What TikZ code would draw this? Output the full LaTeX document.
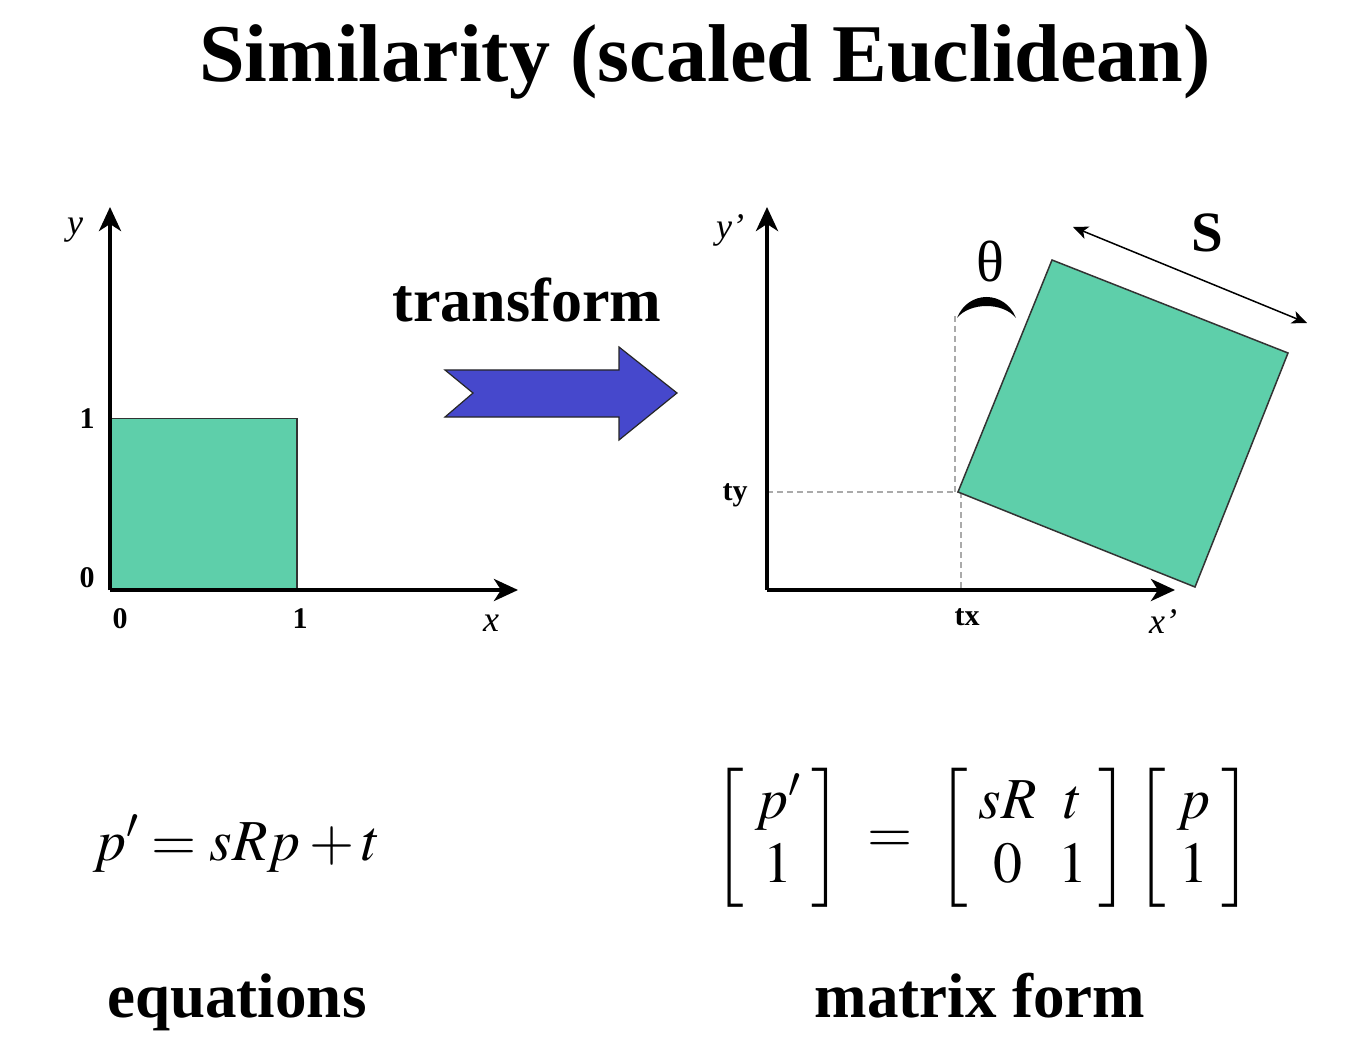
\documentclass[tikz,border=0pt]{standalone}
\usepackage{mathptmx}
\usepackage{fontspec}
\setmainfont{Liberation Serif}
\usetikzlibrary{arrows.meta}
\definecolor{sqgreen}{RGB}{94,207,170}
\definecolor{arrblue}{RGB}{70,72,204}
\definecolor{dashgray}{RGB}{170,170,170}
\tikzset{
  axis/.style={line width=4pt, -{Stealth[length=24pt,width=22pt,inset=7pt]}},
  sq/.style={fill=sqgreen, draw=black!80, line width=1.5pt, line join=miter},
  guide/.style={draw=dashgray, line width=1.3pt, dash pattern=on 6pt off 4pt},
  title/.style={font=\bfseries\fontsize{82}{90}\selectfont, anchor=base, inner sep=0pt},
  caption/.style={font=\bfseries\fontsize{63}{70}\selectfont, anchor=base, inner sep=0pt},
  tick/.style={font=\bfseries\fontsize{30}{34}\selectfont, inner sep=0pt},
  axlab/.style={font=\itshape\fontsize{36}{40}\selectfont, inner sep=0pt},
  mathtext/.style={font=\fontsize{58}{64}\selectfont, inner sep=0pt}
}
\begin{document}
\begin{tikzpicture}[x=1pt,y=-1pt]
\useasboundingbox[fill=white] (0,0) rectangle (1368,1064);

% title
\node[title] (title) at (705,82) {Similarity (scaled Euclidean)};

% ---------- left plot ----------
\coordinate (o1) at (110,590);
\coordinate (y1) at (110,207);
\coordinate (x1) at (518,590);
\node[sq, minimum width=186pt, minimum height=171pt, inner sep=0pt, anchor=south west] (sq1) at (o1) {};
\draw[axis] (o1) -- (y1);
\draw[axis] (o1) -- (x1);
\node[axlab] (ylab) at (75,230) {y};
\node[axlab] (xlab) at (491,623) {x};
\node[tick] (t1y) at (87,419) {1};
\node[tick] (t0y) at (87,578) {0};
\node[tick] (t0x) at (120,619) {0};
\node[tick] (t1x) at (300,619) {1};

% ---------- transform arrow ----------
\node[font=\bfseries\fontsize{62}{68}\selectfont, anchor=base, inner sep=0pt] (trans) at (527,322) {transform};
\draw[fill=arrblue, draw=black!85, line width=1.2pt, line join=miter]
  (445,370) -- (619,370) -- (619,347) -- (677,393) -- (619,440) -- (619,417) -- (445,417) -- (473,393) -- cycle;

% ---------- right plot ----------
\coordinate (o2) at (767,590);
\coordinate (y2) at (767,207);
\coordinate (x2) at (1175,590);
\coordinate (bl) at (958,492);
\coordinate (tl) at (1052,260);
\coordinate (tr) at (1288,353);
\coordinate (br) at (1195,587);

\draw[guide] (767,492) -- (bl);
\draw[guide] (955,316) -- (955,492);
\draw[guide] (961,492) -- (961,590);

\draw[sq] (bl) -- (tl) -- (tr) -- (br) -- cycle;
\draw[axis] (o2) -- (y2);
\draw[axis] (o2) -- (x2);

\node[axlab] (yplab) at (730,230) {y’};
\node[axlab] (xplab) at (1163,622) {x’};
\node[tick] (tylab) at (735,495) {ty};
\node[tick] (txlab) at (967,617) {tx};

% theta arc
\fill[black] (957,318) .. controls (968,290) and (1005,290) .. (1016,318)
  .. controls (1003,302) and (970,302) .. (957,318) -- cycle;
\node[font=\fontsize{58}{62}\selectfont, inner sep=0pt] (theta) at (990,262) {θ};

% scale arrow
\coordinate (s1) at (1073,227);
\coordinate (s2) at (1307,323);
\draw[line width=1.5pt, {Stealth[length=15pt,width=13pt,inset=4pt]}-{Stealth[length=15pt,width=13pt,inset=4pt]}] (s1) -- (s2);
\node[font=\bfseries\fontsize{57}{62}\selectfont, inner sep=0pt] (slab) at (1207,233) {S};

% ---------- equations ----------
\node[mathtext, anchor=base] (eq1) at (237,860) {$p' = sRp + t$};
\node[mathtext] (eq2) at (983,838) {\setlength{\arraycolsep}{11pt}$\left[\begin{array}{c} p' \\ 1\end{array}\right]\hspace{12pt} = \hspace{12pt}\left[\begin{array}{cc} sR & t\\ 0 & 1\end{array}\right]\left[\begin{array}{c} p\\ 1\end{array}\right]$};

\node[caption] (capeq) at (237,1017) {equations};
\node[caption] (capmat) at (980,1017) {matrix form};
\end{tikzpicture}
\end{document}
